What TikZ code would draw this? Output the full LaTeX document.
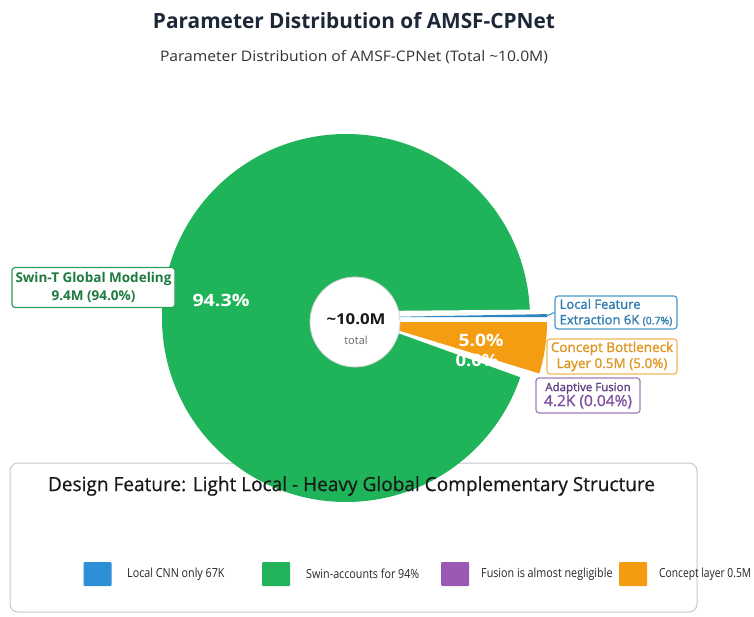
\documentclass[tikz,border=0pt]{standalone}
\usepackage{fontspec}
\usepackage{graphicx}
\setmainfont{Open Sans}
\newfontfamily\cnd[FakeStretch=0.86]{Open Sans}
\newfontfamily\semi[FakeBold=1.2]{Open Sans}
\newfontfamily\medium[FakeBold=0.6]{Open Sans}
\newcommand\fitw[2]{\resizebox{#1}{\height}{#2}}
\definecolor{pieG}{HTML}{1FB45A}
\definecolor{pieO}{HTML}{F49D12}
\definecolor{pieB}{HTML}{2E86C1}
\definecolor{swinB}{HTML}{2E9E5B}
\definecolor{swinT}{HTML}{1F7A40}
\definecolor{locB}{HTML}{4A98C8}
\definecolor{locT}{HTML}{2E7BB0}
\definecolor{conB}{HTML}{F2B857}
\definecolor{conT}{HTML}{E0961E}
\definecolor{adB}{HTML}{A07BBE}
\definecolor{adT}{HTML}{5E3D82}
\definecolor{adT2}{HTML}{7D4FA0}
\definecolor{legB}{HTML}{2D8FD5}
\definecolor{legG}{HTML}{22B35B}
\definecolor{legP}{HTML}{9B59B6}
\definecolor{legO}{HTML}{F39C12}
\definecolor{ttl}{HTML}{1D2738}
\begin{document}
\begin{tikzpicture}[x=1pt,y=-1pt,
  lbl/.style={draw, fill=white, rounded corners=3pt, line width=1.2pt, inner sep=0pt, align=center},
  pct/.style={text=white, font=\bfseries\fontsize{17}{20}\selectfont, inner sep=0pt},
  sq/.style={minimum width=28pt, minimum height=24pt, inner sep=0pt, rounded corners=1pt},
  legtxt/.style={anchor=west, inner sep=0pt, text=black!85, font=\cnd\fontsize{12.5}{15}\selectfont}]
\useasboundingbox (0,0) rectangle (754,617);
\fill[white] (0,0) rectangle (754,617);
% titles
\node[inner sep=0pt, text=ttl, font=\bfseries\fontsize{21}{24}\selectfont] (title) at (354,21) {\fitw{402pt}{Parameter Distribution of AMSF-CPNet}};
\node[inner sep=0pt, text=black!80, font=\fontsize{14.5}{17}\selectfont] (sub) at (354,57) {\fitw{388pt}{Parameter Distribution of AMSF-CPNet (Total \textasciitilde10.0M)}};
% legend box (under the pie)
\node[draw=black!22, line width=1pt, fill=white, rounded corners=8pt, minimum width=687pt, minimum height=149pt, inner sep=0pt] (legend) at (353.5,537.5) {};
% pie
\fill[pieG] (346,318) circle (184);
\fill[white] (375,311) -- (545,309.5) -- (560,309.5) -- (560,392) -- (545,386) -- (395,332) -- cycle;
\fill[pieO] (371,322) -- ++(0:176) arc[start angle=0, end angle=17, radius=176] -- cycle;
\fill[pieB] (371,317.2) -- ++(-1:176) arc[start angle=-1, end angle=0, radius=176] -- cycle;
\coordinate (bluetip) at (547,315.8);
% percentages
\node[pct] (p94) at (221,300) {\fitw{57pt}{94.3\%}};
\node[pct] (p00) at (477,360) {\fitw{43pt}{0.0\%}};
\node[pct] (p5) at (481,340) {\fitw{45pt}{5.0\%}};
% centre
\node[circle, fill=white, draw=black!18, line width=0.8pt, minimum size=90pt, inner sep=0pt] (tot) at (355,322) {};
\node[inner sep=0pt, font=\bfseries\fontsize{15}{18}\selectfont, text=black!90] (totv) at (356,319) {\fitw{59pt}{\textasciitilde10.0M}};
\node[inner sep=0pt, font=\fontsize{11}{13}\selectfont, text=black!60] (totl) at (356,340) {total};
% labels
\node[lbl, draw=swinB, text=swinT, minimum width=163pt, minimum height=40pt, font=\bfseries\fontsize{13.5}{18}\selectfont] (swin) at (93.5,287.5) {\fitw{156pt}{Swin-T Global Modeling}\\9.4M (94.0\%)};
\node[lbl, draw=locB, text=locT, minimum width=122pt, minimum height=33pt, align=left, font=\semi\fontsize{13}{15.5}\selectfont] (loc) at (616,312.5) {Local Feature\\Extraction 6K {\fontsize{10.5}{12}\selectfont(0.7\%)}};
\node[lbl, draw=conB, text=conT, minimum width=130pt, minimum height=35pt, font=\semi\fontsize{13.5}{16}\selectfont] (con) at (612,356.5) {Concept Bottleneck\\Layer 0.5M (5.0\%)};
\node[lbl, draw=adB, text=adT2, minimum width=104pt, minimum height=35pt, font=\semi] (ada) at (588,395.5) {{\color{adT}\fontsize{11.5}{15}\selectfont Adaptive Fusion}\\{\fontsize{15.5}{17}\selectfont 4.2K (0.04\%)}};
\draw[locB, line width=1.2pt] (bluetip) -- (loc.west);
% legend contents
\node[inner sep=0pt, text=black!90, font=\medium\fontsize{19.5}{22}\selectfont] (ltitle) at (351.5,486) {\fitw{607pt}{Design Feature: Light Local - Heavy Global Complementary Structure}};
\node[sq, fill=legB] (s1) at (97.5,574) {};
\node[legtxt] (t1) at (127,574) {Local CNN only 67K};
\node[sq, fill=legG] (s2) at (276,574) {};
\node[legtxt] (t2) at (306,574) {Swin-accounts for 94\%};
\node[sq, fill=legP] (s3) at (455,574) {};
\node[legtxt] (t3) at (481,574) {Fusion is almost negligible};
\node[sq, fill=legO] (s4) at (633,574) {};
\node[legtxt] (t4) at (659,574) {\fitw{92pt}{Concept layer 0.5M}};
\end{tikzpicture}
\end{document}
